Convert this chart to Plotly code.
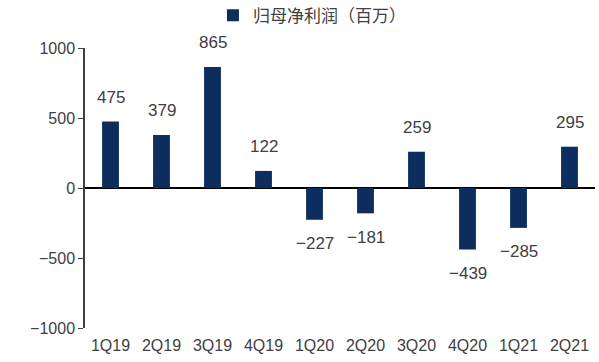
import plotly.graph_objects as go

categories = ["1Q19", "2Q19", "3Q19", "4Q19", "1Q20", "2Q20", "3Q20", "4Q20", "1Q21", "2Q21"]
values = [475, 379, 865, 122, -227, -181, 259, -439, -285, 295]
series_name = "归母净利润（百万）"
y_ticks = [-1000, -500, 0, 500, 1000]

labels = [f"{v}".replace("-", "\u2212") for v in values]

fig = go.Figure()
fig.add_trace(go.Bar(
    x=categories, y=values, name=series_name,
    marker=dict(color="#0c2d5e", line=dict(width=0)),
    width=0.33,
    showlegend=True,
))

for c, v, lab in zip(categories, values, labels):
    fig.add_annotation(x=c, y=v, text=lab, showarrow=False,
                       yshift=24 if v >= 0 else -24,
                       font=dict(family="Liberation Sans, Arial", size=17, color="#404040"))

fig.update_layout(
    width=599, height=362,
    margin=dict(l=85, r=4, t=48, b=34, autoexpand=False),
    paper_bgcolor="white", plot_bgcolor="white",
    showlegend=True,
    legend=dict(orientation="h", x=0.445, xanchor="center", y=1.115, yanchor="middle",
                font=dict(family="Noto Sans CJK SC", size=17, color="#404040"),
                itemwidth=30),
    xaxis=dict(type="category", showline=False, showgrid=False, ticks="",
               tickfont=dict(family="Liberation Sans, Arial", size=16, color="#404040"),
               ticklabelstandoff=6),
    yaxis=dict(range=[-1000, 1000], tickvals=y_ticks,
               ticktext=[str(t).replace("-", "\u2212") for t in y_ticks],
               showgrid=False, showline=True, linecolor="#404040", linewidth=1.5,
               ticks="outside", ticklen=5, tickcolor="#404040",
               zeroline=True, zerolinecolor="#000000", zerolinewidth=1.5,
               tickfont=dict(family="Liberation Sans, Arial", size=16, color="#404040")),
)

fig.write_html("out.html")
